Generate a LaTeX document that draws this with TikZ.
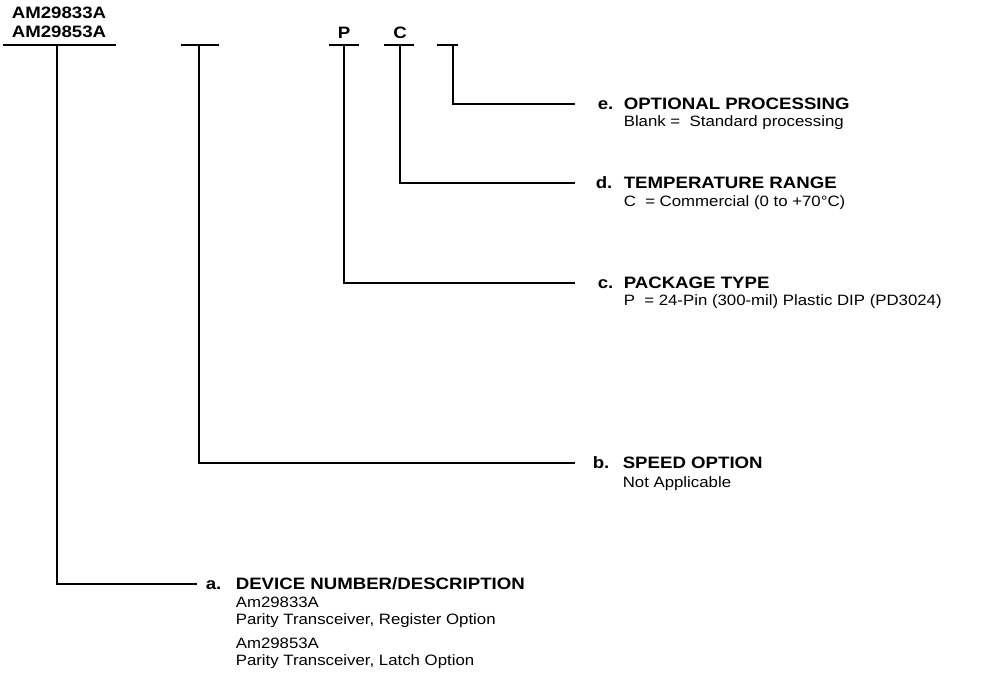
\documentclass[tikz,border=0pt]{standalone}
\usepackage{fontspec}
\setmainfont{Liberation Sans}[FakeStretch=1.12]
\newfontfamily\hdfont{Liberation Sans Bold}[FakeStretch=1.13]
\begin{document}
\begin{tikzpicture}[x=1pt,y=-1pt,line width=1.6pt,line cap=rect,
  hd/.style={font=\fontsize{16.5}{20}\hdfont,inner sep=0pt,text height=11.9pt,text depth=0pt,anchor=west},
  lt/.style={hd,inner xsep=0pt},
  sb/.style={font=\fontsize{15}{17}\selectfont,inner sep=0pt,anchor=base west},
  conn/.style={line cap=butt}]
\useasboundingbox (0,0) rectangle (994,691);
% top labels
\node[hd,anchor=center] (t1) at (59,13) {AM29833A};
\node[hd,anchor=center] (t2) at (59,32) {AM29853A};
\node[hd,anchor=center] (tp) at (344,33) {P};
\node[hd,anchor=center] (tc) at (400,33) {C};
% bars
\draw (4,45) -- (115,45);
\draw (182,45) -- (218,45);
\draw (330,45) -- (358,45);
\draw (385,45) -- (413,45);
\draw (438,45) -- (457,45);
\coordinate (ba) at (57,45);
\coordinate (bb) at (199,45);
\coordinate (bc) at (344,45);
\coordinate (bd) at (400,45);
\coordinate (be) at (453,45);
% e
\node[lt] (le) at (575,104) {\hspace*{22pt}e.};
\node[hd] (he) at (623,104) {OPTIONAL PROCESSING};
\node[sb] (se) at (623,126) {Blank =\ \ Standard processing};
% d
\node[lt] (ld) at (575,183) {\hspace*{20pt}d.};
\node[hd] (hd) at (623,183) {TEMPERATURE RANGE};
\node[sb] (sd) at (623,206) {C\ \ =\ Commercial (0 to +70°C)};
% c
\node[lt] (lc) at (575,283) {\hspace*{22pt}c.};
\node[hd] (hc) at (623,283) {PACKAGE TYPE};
\node[sb] (sc) at (623,305) {P\ \ =\ 24-Pin (300-mil) Plastic DIP (PD3024)};
% b
\node[lt] (lb) at (575,463) {\hspace*{17pt}b.};
\node[hd] (hb) at (622,463) {SPEED OPTION};
\node[sb] (sbb) at (622,487) {Not Applicable};
% a
\node[lt] (la) at (197,584) {\hspace*{8pt}a.};
\node[hd] (ha) at (235,584) {DEVICE NUMBER/DESCRIPTION};
\node[sb] (sa1) at (235,607) {Am29833A};
\node[sb] (sa2) at (235,624) {Parity Transceiver, Register Option};
\node[sb] (sa3) at (235,648) {Am29853A};
\node[sb] (sa4) at (235,665) {Parity Transceiver, Latch Option};
% connectors
\draw[conn] (be) |- (le.west);
\draw[conn] (bd) |- (ld.west);
\draw[conn] (bc) |- (lc.west);
\draw[conn] (bb) |- (lb.west);
\draw[conn] (ba) |- (la.west);
\end{tikzpicture}
\end{document}
